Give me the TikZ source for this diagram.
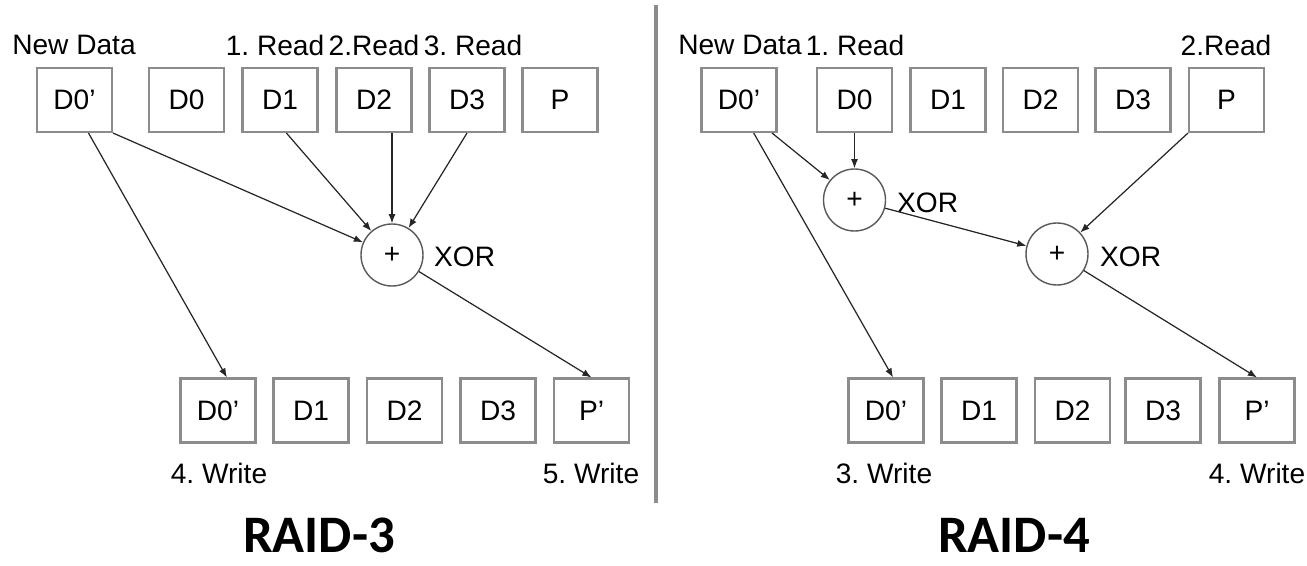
\documentclass[tikz,border=0pt]{standalone}
\usepackage{fontspec}
\setmainfont{Liberation Sans}
\newfontfamily\raidfont{Carlito}
\usetikzlibrary{arrows.meta}
\frenchspacing

\tikzset{
  disk/.style={draw=black!45, line width=0.6pt, minimum width=0.75cm, minimum height=0.64cm, inner sep=0pt, font=\footnotesize},
  xorc/.style={circle, draw=black!65, line width=0.4pt, minimum size=0.62cm, inner sep=0pt, font=\footnotesize},
  lbl/.style={font=\footnotesize, inner sep=1pt},
  arr/.style={-{Latex[length=2.6pt,width=2pt]}, black!85, line width=0.35pt},
  raidtitle/.style={font=\raidfont\bfseries\fontsize{15}{18}\selectfont, inner sep=1pt}
}

\begin{document}
\begin{tikzpicture}
    \useasboundingbox (0,0) rectangle (13.07,5.65);

    % RAID-3: labels
    \node[lbl] at (0.74,5.20) (nd3) {New Data};
    \node[lbl] at (2.75,5.20) (r31) {1. Read};
    \node[lbl] at (3.74,5.20) (r32) {2.Read};
    \node[lbl] at (4.73,5.20) (r33) {3. Read};
    \node[lbl] at (2.19,0.92) (w34) {4. Write};
    \node[lbl] at (5.91,0.92) (w35) {5. Write};
    \node[raidtitle] at (3.19,0.30) (t3) {RAID-3};

    % RAID-3: disks
    \node[disk] at (0.745,4.65) (a0n) {D0'};
    \node[disk] at (1.865,4.65) (a0) {D0};
    \node[disk] at (2.80,4.65) (a1) {D1};
    \node[disk] at (3.74,4.65) (a2) {D2};
    \node[disk] at (4.67,4.65) (a3) {D3};
    \node[disk] at (5.60,4.65) (ap) {P};
    \node[disk] at (2.18,1.545) (b0n) {D0'};
    \node[disk] at (3.11,1.545) (b1) {D1};
    \node[disk] at (4.045,1.545) (b2) {D2};
    \node[disk] at (4.98,1.545) (b3) {D3};
    \node[disk] at (5.915,1.545) (bp) {P'};

    % RAID-3: xor
    \node[xorc] at (3.92,3.10) (x3) {+};
    \node[lbl, anchor=west] at (4.30,3.08) (x3l) {XOR};

    % RAID-3: paths
    \draw[arr] (a0n.south east) -- (x3); % D0' -> XOR
    \draw[arr] (a0n.-67) -- (b0n.75); % D0' -> new D0'
    \draw[arr] (a1.-79) -- (x3); % D1 -> XOR
    \draw[arr] (a2.south -| x3) -- (x3); % D2 -> XOR
    \draw[arr] (a3.south) -- (x3); % D3 -> XOR
    \draw[arr] (x3) -- (bp.north); % XOR -> P'

    % divider
    \coordinate (dtop) at (6.56,5.60);
    \coordinate (dbot) at (6.56,0.62);
    \draw[black!45, line width=0.9pt] (dtop) -- (dbot);

    % RAID-4: labels
    \node[lbl] at (7.40,5.20) (nd4) {New Data};
    \node[lbl] at (8.55,5.20) (r41) {1. Read};
    \node[lbl] at (12.26,5.20) (r42) {2.Read};
    \node[lbl] at (8.84,0.92) (w43) {3. Write};
    \node[lbl] at (12.57,0.92) (w44) {4. Write};
    \node[raidtitle] at (10.14,0.30) (t4) {RAID-4};

    % RAID-4: disks
    \node[disk] at (7.39,4.65) (c0n) {D0'};
    \node[disk] at (8.545,4.65) (c0) {D0};
    \node[disk] at (9.48,4.65) (c1) {D1};
    \node[disk] at (10.405,4.65) (c2) {D2};
    \node[disk] at (11.33,4.65) (c3) {D3};
    \node[disk] at (12.265,4.65) (cp) {P};
    \node[disk] at (8.86,1.545) (e0n) {D0'};
    \node[disk] at (9.79,1.545) (e1) {D1};
    \node[disk] at (10.725,1.545) (e2) {D2};
    \node[disk] at (11.63,1.545) (e3) {D3};
    \node[disk] at (12.57,1.545) (ep) {P'};

    % RAID-4: xor
    \node[xorc] at (8.545,3.65) (x41) {+};
    \node[lbl, anchor=west] at (8.93,3.62) (x41l) {XOR};
    \node[xorc] at (10.57,3.11) (x42) {+};
    \node[lbl, anchor=west] at (10.96,3.08) (x42l) {XOR};

    % RAID-4: paths
    \draw[arr] (c0n.-45) -- (x41); % D0' -> XOR
    \draw[arr] (c0n.-66) -- (e0n.78); % D0' -> new D0'
    \draw[arr] (c0.south) -- (x41); % D0 -> XOR
    \draw[arr] (x41) -- (x42); % XOR -> XOR
    \draw[arr] (cp.south west) -- (x42); % P -> XOR
    \draw[arr] (x42) -- (ep.north); % XOR -> P'

\end{tikzpicture}
\end{document}
